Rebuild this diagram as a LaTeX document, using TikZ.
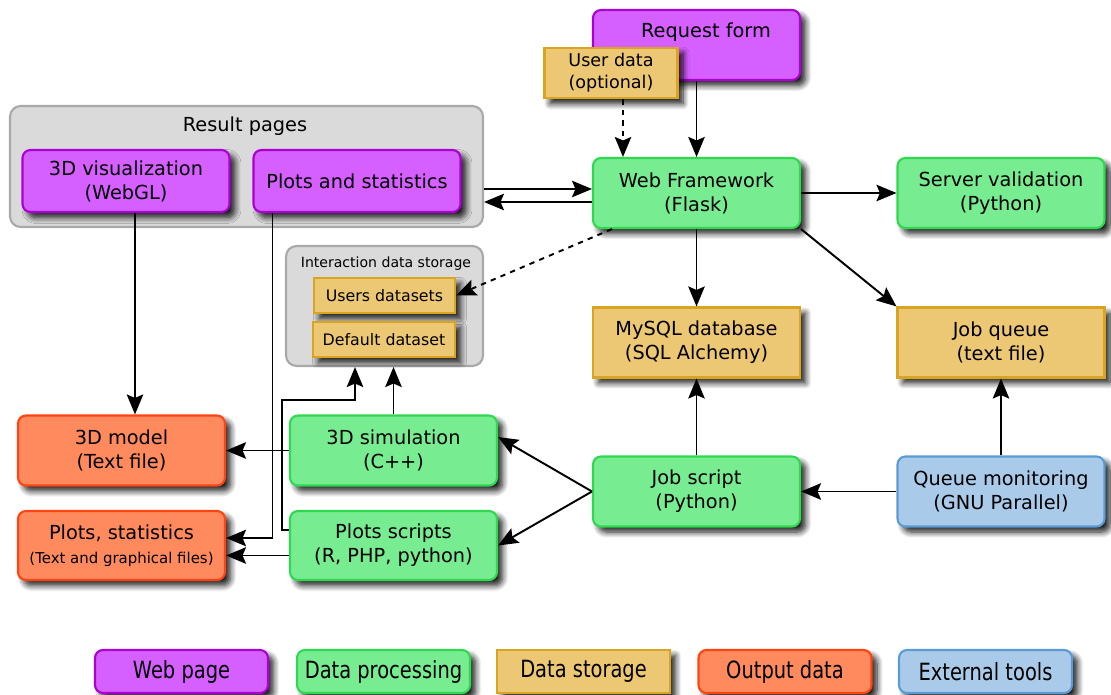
\documentclass[tikz,border=0pt]{standalone}
\usepackage{fontspec}
\setmainfont{DejaVu Sans}
\newfontfamily\legendfont{DejaVu Sans}[FakeStretch=0.82]
\usetikzlibrary{arrows.meta}
\usetikzlibrary{shadows.blur}
\definecolor{webfill}{HTML}{D55FFF}
\definecolor{webdraw}{HTML}{AA00D4}
\definecolor{procfill}{HTML}{77EC91}
\definecolor{procdraw}{HTML}{2ED84F}
\definecolor{storefill}{HTML}{EDC874}
\definecolor{storedraw}{HTML}{D9A520}
\definecolor{outfill}{HTML}{FF8A5E}
\definecolor{outdraw}{HTML}{FF4411}
\definecolor{toolfill}{HTML}{A9CBE9}
\definecolor{tooldraw}{HTML}{5B9BD5}
\definecolor{groupfill}{HTML}{DADADA}
\definecolor{groupdraw}{HTML}{A9A9A9}
\def\bw{4.14cm}
\def\bh{1.4cm}
\def\lw{3.46cm}
\def\lh{0.86cm}
\tikzset{
    box/.style = {
        draw, line width=1.2pt, minimum width=\bw, minimum height=\bh, align=center,
        font=\fontsize{11}{13.6}\selectfont,
        blur shadow={shadow xshift=1.1mm, shadow yshift=-1.1mm, shadow blur radius=1.2mm, shadow blur steps=8, shadow opacity=90}
    },
    webbox/.style = {box, rounded corners=4.5pt, fill=webfill, draw=webdraw},
    procbox/.style = {box, rounded corners=4.5pt, fill=procfill, draw=procdraw},
    storebox/.style = {box, fill=storefill, draw=storedraw},
    outbox/.style = {box, rounded corners=4.5pt, fill=outfill, draw=outdraw},
    toolbox/.style = {box, rounded corners=4.5pt, fill=toolfill, draw=tooldraw},
    groupbox/.style = {draw=groupdraw, fill=groupfill, line width=1.2pt, rounded corners=6pt},
    legend/.style = {minimum width=\lw, minimum height=\lh, font=\legendfont\fontsize{13.5}{15}\selectfont},
    conn/.style = {line width=1.1pt, -{Stealth[length=4mm, width=3.3mm, inset=0.7mm]}},
}

\begin{document}
\begin{tikzpicture}[x=0.02cm, y=-0.02cm]
    \useasboundingbox (0,0) rectangle (1111,695);

    % Result pages group
    \node[groupbox, minimum width=9.46cm, minimum height=2.42cm] (results) at (246.5,166.5) {};
    \node[font=\fontsize{11}{13.6}\selectfont] (resultstitle) at (245,126) {Result pages};
    \node[webbox, minimum height=1.24cm] (viz) at (126,181) {3D visualization\\(WebGL)};
    \node[webbox, minimum height=1.24cm] (plotspage) at (357,181) {Plots and statistics};

    % Interaction data storage group
    \node[groupbox, minimum width=3.94cm, minimum height=2.4cm] (storage) at (384.5,306) {};
    \node[font=\fontsize{8}{10}\selectfont] (storagetitle) at (386,264) {Interaction data storage};
    \node[storebox, minimum width=2.82cm, minimum height=0.7cm, font=\fontsize{9}{11}\selectfont] (users) at (384.5,295.5) {Users datasets};
    \node[storebox, minimum width=2.84cm, minimum height=0.7cm, font=\fontsize{9}{11}\selectfont] (default) at (384,339.5) {Default dataset};

    % Web side
    \node[webbox, label={[anchor=center, xshift=0.19cm, yshift=-0.46cm, font=\fontsize{11}{13.6}\selectfont]north:Request form}] (request) at (696.5,45) {};
    \node[storebox, minimum width=2.66cm, minimum height=0.92cm, font=\fontsize{10}{12.5}\selectfont] (userdata) at (611,73) {User data\\(optional)};
    \node[procbox] (web) at (696.5,193) {Web Framework\\(Flask)};
    \node[procbox] (server) at (1001,193) {Server validation\\(Python)};
    \node[storebox] (mysql) at (696.5,342.5) {MySQL database\\(SQL Alchemy)};
    \node[storebox] (jobqueue) at (1001,342.5) {Job queue\\(text file)};
    \node[procbox] (jobscript) at (696.5,491.5) {Job script\\(Python)};
    \node[toolbox] (queuemon) at (1001,491.5) {Queue monitoring\\(GNU Parallel)};

    % Processing and outputs
    \node[outbox] (model) at (121.5,450.5) {3D model\\(Text file)};
    \node[procbox] (sim) at (393.5,450.5) {3D simulation\\(C++)};
    \node[outbox, minimum height=1.38cm] (plotsout) at (121.5,545.5) {Plots, statistics\\{\fontsize{8.5}{10}\selectfont(Text and graphical files)}};
    \node[procbox, minimum height=1.38cm] (plotsscripts) at (393.5,545.5) {Plots scripts\\(R, PHP, python)};

    % Connections
    \draw[conn] (request.south) -- (web.north);
    \draw[conn, dashed] ([xshift=0.24cm]userdata.south) -- ([xshift=0.24cm]userdata.south |- web.north);
    \draw[conn] ([yshift=0.08cm]web.west -| results.east) -- ([yshift=0.08cm]web.west);
    \draw[conn] ([yshift=-0.18cm]web.west) -- ([yshift=-0.18cm]web.west -| results.east);
    \draw[conn] (web.east) -- (server.west);
    \draw[conn] (web.south) -- (mysql.north);
    \draw[conn] (web.south east) -- (jobqueue.north west);
    \draw[conn, dashed] ([xshift=0.4cm]web.south west) -- (users.east);
    \draw[conn] (jobscript.north) -- (mysql.south);
    \draw[conn] (queuemon.north) -- (jobqueue.south);
    \draw[conn] (queuemon.west) -- (jobscript.east);
    \draw[conn] (jobscript.west) -- ([yshift=0.27cm]sim.east);
    \draw[conn] (jobscript.west) -- (plotsscripts.east);
    \draw[conn] (sim.west) -- (model.east);
    \draw[conn] ([yshift=-0.2cm]plotsscripts.west) -- ([yshift=-0.2cm]plotsscripts.west -| plotsout.east);
    \draw[conn] ([xshift=0.18cm]viz.south) -- ([xshift=0.18cm]viz.south |- model.north);
    \draw[conn] ([xshift=0.4cm]plotspage.south west) |- ([yshift=0.15cm]plotsout.east);
    \draw[conn] (sim.north) -- (sim.north |- storage.south);
    \coordinate (turn) at (355,400);
    \draw[conn] ([yshift=0.31cm]plotsscripts.west) -- ++(-7,0) |- (turn) -- (turn |- storage.south);

    % Legend
    \node[webbox, legend] (lgweb) at (181.5,671.5) {Web page};
    \node[procbox, legend] (lgproc) at (383.5,671.5) {Data processing};
    \node[storebox, legend] (lgstore) at (583.5,671.5) {Data storage};
    \node[outbox, legend] (lgout) at (785,671.5) {Output data};
    \node[toolbox, legend] (lgtool) at (985.5,671.5) {External tools};
\end{tikzpicture}
\end{document}
